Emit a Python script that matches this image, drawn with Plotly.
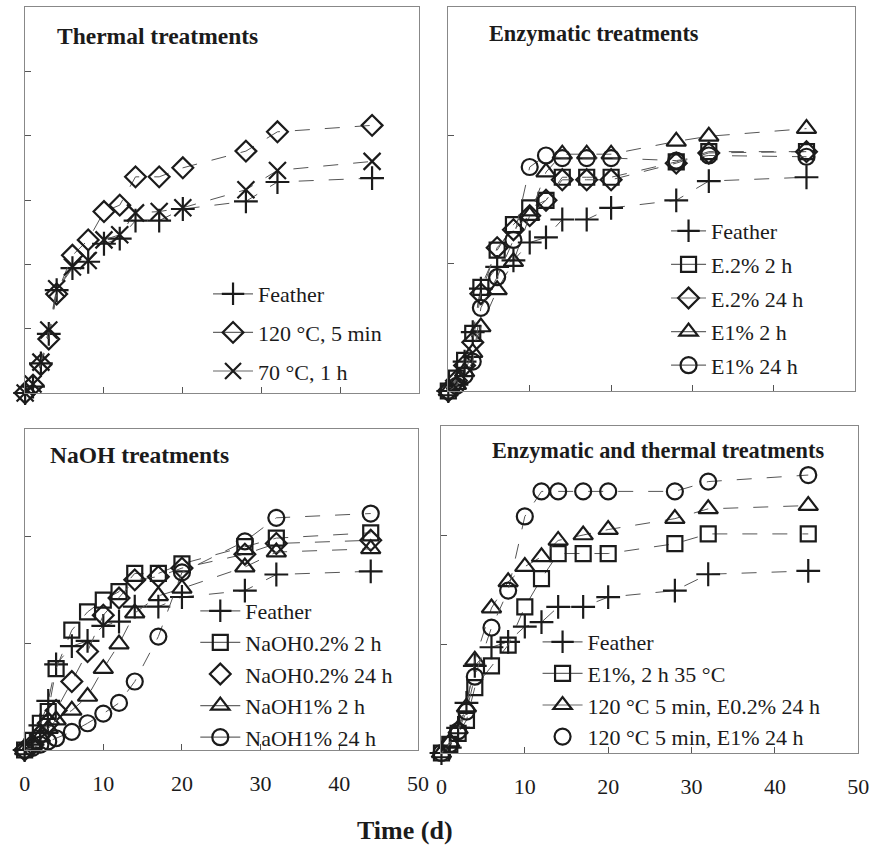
import plotly.graph_objects as go

W, H = 883, 847

days = [0, 1, 2, 3, 4, 6, 8, 10, 12, 14, 17, 20, 28, 32, 44]

feather = [0, 5, 23, 46, 80, 97, 102, 116, 120, 134, 134, 143, 149, 164, 167]

# Thermal treatments
th_120_5min = [0, 6, 22, 42, 77, 107, 119, 141, 146, 168, 168, 175, 188, 203, 208]
th_70_1h = [0, 7, 24, 49, 81, 98, 103, 119, 123, 140, 141, 144, 158, 173, 180]

# Enzymatic treatments
en_02_2h = [0, 10, 24, 45, 81, 110, 130, 143, 149, 167, 167, 167, 179, 187, 187]
en_02_24h = [0, 8, 20, 38, 76, 112, 126, 137, 149, 165, 165, 165, 178, 186, 187]
en_1_2h = [0, 5, 15, 30, 50, 79, 101, 137, 171, 185, 185, 185, 195, 199, 205]
en_1_24h = [0, 4, 12, 23, 65, 89, 118, 175, 184, 182, 182, 182, 180, 184, 183]

# NaOH treatments
na_02_2h = [0, 9, 25, 36, 76, 112, 129, 140, 148, 165, 165, 174, 190, 198, 203]
na_02_24h = [0, 5, 14, 25, 37, 64, 92, 126, 142, 159, 162, 170, 183, 193, 196]
na_1_2h = [0, 5, 12, 20, 28, 37, 50, 76, 99, 128, 144, 151, 171, 185, 188]
na_1_24h = [0, 2, 5, 8, 11, 17, 25, 34, 44, 64, 106, 166, 195, 217, 221]

# Enzymatic and thermal treatments
et_e1_2h35 = [0, 8, 18, 30, 60, 80, 99, 134, 160, 183, 183, 183, 192, 201, 201]
et_120_e02_24h = [0, 10, 22, 42, 85, 133, 157, 171, 180, 195, 200, 205, 215, 224, 227]
et_120_e1_24h = [0, 8, 20, 38, 70, 115, 149, 217, 240, 240, 240, 240, 240, 249, 255]

x_ticks = [0, 10, 20, 30, 40, 50]

FONT = "Liberation Serif"
INK = "#1b1b1b"

def px_x(v):
    return v / W

def px_y(v):
    return 1 - v / H

fig = go.Figure()

# panel geometry in pixels: (left, right, top, bottom)
panels = {
    1: (19.5, 421.5, 7, 393),
    2: (451, 866, 7, 391),
    3: (19, 420, 429, 750),
    4: (444, 869, 426, 753),
}

sym = {
    "plus": dict(symbol="cross-thin-open", size=17, line=dict(width=2.2, color=INK)),
    "diamond": dict(symbol="diamond-open", size=16, line=dict(width=2.2, color=INK)),
    "x": dict(symbol="x-thin-open", size=17, line=dict(width=2.2, color=INK)),
    "square": dict(symbol="square-open", size=15, line=dict(width=2.2, color=INK)),
    "triangle": dict(symbol="triangle-up-open", size=17, line=dict(width=2.2, color=INK)),
    "circle": dict(symbol="circle-open", size=16, line=dict(width=2.2, color=INK)),
}

def add_series(k, name, y, marker, legend, legend_line=True):
    xa = "x" if k == 1 else f"x{k}"
    ya = "y" if k == 1 else f"y{k}"
    fig.add_trace(go.Scatter(
        x=days, y=y, mode="lines+markers", xaxis=xa, yaxis=ya,
        line=dict(color="#555555", width=1, dash="longdash"),
        marker=dict(color=INK, **sym[marker]),
        showlegend=False, cliponaxis=False, hoverinfo="skip"))
    fig.add_trace(go.Scatter(
        x=[None], y=[None], xaxis=xa, yaxis=ya, name=name,
        mode="lines+markers" if legend_line else "markers",
        line=dict(color="#666666", width=1.2),
        marker=dict(color=INK, **sym[marker]),
        legend=legend, legendgroup=f"{legend}-{name}", showlegend=True))

add_series(1, "Feather", feather, "plus", "legend")
add_series(1, "120 °C, 5 min", th_120_5min, "diamond", "legend")
add_series(1, "70 °C, 1 h", th_70_1h, "x", "legend")

add_series(2, "Feather", feather, "plus", "legend2")
add_series(2, "E.2% 2 h", en_02_2h, "square", "legend2")
add_series(2, "E.2% 24 h", en_02_24h, "diamond", "legend2")
add_series(2, "E1% 2 h", en_1_2h, "triangle", "legend2")
add_series(2, "E1% 24 h", en_1_24h, "circle", "legend2")

add_series(3, "Feather", feather, "plus", "legend3")
add_series(3, "NaOH0.2% 2 h", na_02_2h, "square", "legend3")
add_series(3, "NaOH0.2% 24 h", na_02_24h, "diamond", "legend3", legend_line=False)
add_series(3, "NaOH1% 2 h", na_1_2h, "triangle", "legend3")
add_series(3, "NaOH1% 24 h", na_1_24h, "circle", "legend3")

add_series(4, "Feather", feather, "plus", "legend4")
add_series(4, "E1%, 2 h 35 °C", et_e1_2h35, "square", "legend4")
add_series(4, "120 °C 5 min, E0.2% 24 h", et_120_e02_24h, "triangle", "legend4")
add_series(4, "120 °C 5 min, E1% 24 h", et_120_e1_24h, "circle", "legend4", legend_line=False)

layout = dict(
    width=W, height=H, margin=dict(l=0, r=0, t=0, b=0),
    paper_bgcolor="white", plot_bgcolor="white",
    font=dict(family=FONT, size=22, color=INK),
)

for k, (l, r, t, b) in panels.items():
    xname = "xaxis" if k == 1 else f"xaxis{k}"
    yname = "yaxis" if k == 1 else f"yaxis{k}"
    bottom = k in (3, 4)
    layout[xname] = dict(
        domain=[px_x(l), px_x(r)], range=[0, 50], anchor="y" if k == 1 else f"y{k}",
        tickvals=x_ticks, showticklabels=bottom, ticks="inside", ticklen=6,
        tickcolor="#555", showline=True, mirror=True, linecolor="#888", linewidth=1,
        showgrid=False, zeroline=False, ticklabelstandoff=14,
        tickfont=dict(family=FONT, size=22, color=INK))
    layout[yname] = dict(
        domain=[px_y(b), px_y(t)], range=[0, 300], anchor="x" if k == 1 else f"x{k}",
        dtick=50 if k == 1 else 100, tick0=0, showticklabels=False, ticks="inside",
        ticklen=6, tickcolor="#555", showline=True, mirror=True, linecolor="#888",
        linewidth=1, showgrid=False, zeroline=False)

def legend_cfg(left, top, gap, itemwidth=40):
    return dict(x=px_x(left), y=px_y(top), xanchor="left", yanchor="top",
                bgcolor="rgba(0,0,0,0)", borderwidth=0, traceorder="grouped",
                tracegroupgap=gap, itemwidth=itemwidth,
                font=dict(family=FONT, size=22, color=INK))

layout["legend"] = legend_cfg(206, 273, 7)
layout["legend2"] = legend_cfg(673, 210, 2, itemwidth=35)
layout["legend3"] = legend_cfg(193, 590, 0)
layout["legend4"] = legend_cfg(542, 621, 0)

fig.update_layout(**layout)

titles = [
    ("Thermal treatments", 50, 36, 23.5),
    ("Enzymatic treatments", 490, 33, 22.3),
    ("NaOH treatments", 43, 455, 23.5),
    ("Enzymatic and thermal treatments", 493, 450, 22.3),
]
for text, x, y, fs in titles:
    fig.add_annotation(text=f"<b>{text}</b>", x=px_x(x), y=px_y(y), xref="paper",
                       yref="paper", xanchor="left", yanchor="middle", showarrow=False,
                       font=dict(family=FONT, size=fs, color=INK))

fig.add_annotation(text="<b>Time (d)</b>", x=px_x(407), y=px_y(830), xref="paper",
                   yref="paper", xanchor="center", yanchor="middle", showarrow=False,
                   font=dict(family=FONT, size=26, color=INK))

fig.write_html("out.html", config={"displayModeBar": False},
               post_script="document.body.style.margin='0';document.body.style.overflow='hidden';")
